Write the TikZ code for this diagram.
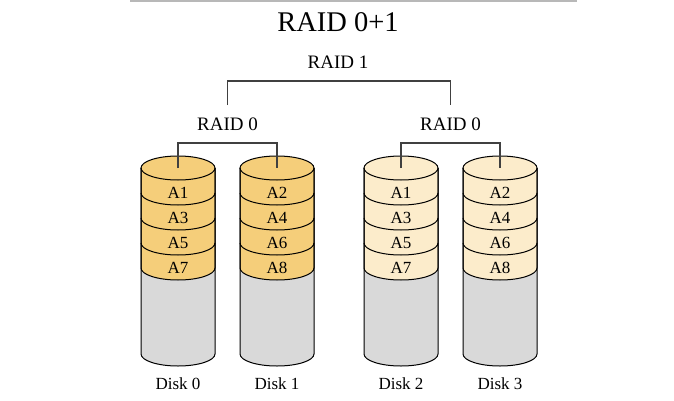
\documentclass[tikz,border=0pt]{standalone}
\usepackage{fontspec}
\setmainfont{Liberation Serif}
\usepackage{xcolor}
\definecolor{raidgold}{RGB}{245,206,122}
\definecolor{raidcream}{RGB}{252,236,203}
\definecolor{raidgray}{RGB}{217,217,217}
\definecolor{raidline}{RGB}{64,64,64}
\usepackage{tikz}
\usetikzlibrary{calc}

\begin{document}
\begin{tikzpicture}[
  x=1pt, y=1pt,
  title/.style={font=\fontsize{28.5}{30}\selectfont, inner sep=0pt},
  level/.style={font=\fontsize{19}{21}\selectfont, inner sep=0pt},
  blk/.style={font=\fontsize{17}{19}\selectfont, inner sep=0pt},
  disklab/.style={font=\fontsize{17}{19}\selectfont, inner sep=0pt},
  outline/.style={draw=black, line width=1pt},
  link/.style={draw=raidline, line width=1.3pt}]
\useasboundingbox (0,0) rectangle (674,400);
\draw[raidgray!85!black, line width=1.5pt] (130,399) -- (577,399);
\node[title] (title) at (338,378) {RAID 0+1};
\node[level] (raid1) at (338,338) {RAID 1};
% four disks, striped in pairs
\foreach \cx/\fc/\n/\a/\b/\c/\d in {178/raidgold/0/A1/A3/A5/A7, 277/raidgold/1/A2/A4/A6/A8,
    401/raidcream/2/A1/A3/A5/A7, 500/raidcream/3/A2/A4/A6/A8} {
  \fill[raidgray] (\cx-37,132) -- (\cx-37,46) arc[start angle=180, end angle=360, x radius=37pt, y radius=12pt] -- (\cx+37,132) -- cycle;
  \filldraw[fill=\fc, outline] (\cx-37,232) -- (\cx-37,132) arc[start angle=180, end angle=360, x radius=37pt, y radius=12pt] -- (\cx+37,232);
  \filldraw[fill=\fc, outline] (\cx,232) ellipse[x radius=37pt, y radius=12pt];
  \foreach \k in {1,2,3}
    \draw[outline] (\cx-37,232-25*\k) arc[start angle=180, end angle=360, x radius=37pt, y radius=12pt];
  \draw[outline] (\cx-37,232) -- (\cx-37,46) arc[start angle=180, end angle=360, x radius=37pt, y radius=12pt] -- (\cx+37,232);
  \coordinate (top\n) at (\cx,232);
  \node[blk] (blk\n a) at (\cx,207.5) {\a};
  \node[blk] (blk\n b) at (\cx,182.5) {\b};
  \node[blk] (blk\n c) at (\cx,157.5) {\c};
  \node[blk] (blk\n d) at (\cx,132.5) {\d};
  \node[disklab] (disk\n) at (\cx,16) {Disk \n};
}
\coordinate (midA) at ($(top0)!0.5!(top1)+(0,63)$);
\coordinate (midB) at ($(top2)!0.5!(top3)+(0,63)$);
\node[level] (raid0a) at ($(midA)+(0,-19)$) {RAID 0};
\node[level] (raid0b) at ($(midB)+(0,-19)$) {RAID 0};
\draw[link] (top0) -- ++(0,25) -| (top1);
\draw[link] (top2) -- ++(0,25) -| (top3);
\draw[link] (midA) -- ++(0,24) -| (midB);
\end{tikzpicture}
\end{document}
